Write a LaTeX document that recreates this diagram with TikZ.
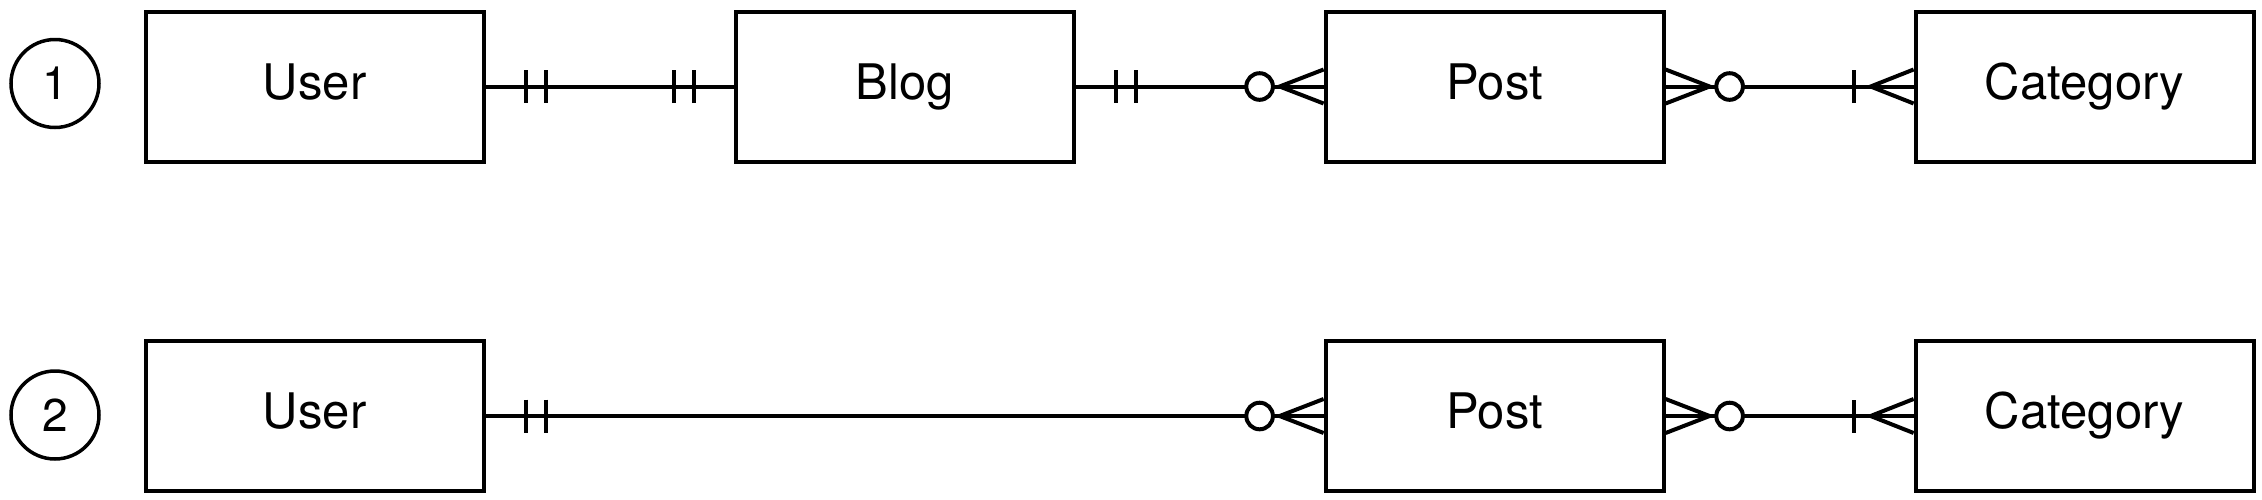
\documentclass[tikz,border=0pt]{standalone}
\usepackage{fontspec}
\setmainfont{TeX Gyre Heros}
\usetikzlibrary{calc}
\tikzset{
  ent/.style={draw, line width=4pt, minimum width=338pt, minimum height=150pt, inner sep=0pt, text height=35pt, text depth=10pt, font=\fontsize{49}{55}\selectfont},
  num/.style={draw, circle, line width=3.5pt, minimum size=88pt, inner sep=0pt, font=\fontsize{46}{52}\selectfont},
  conn/.style={line width=4pt},
  bars/.pic={\draw[conn] (40,-16.5) -- (40,16.5); \draw[conn] (60,-16.5) -- (60,16.5);},
  barone/.pic={\draw[conn] (60,-16.5) -- (60,16.5); \draw[conn] (0,-17) -- (43,0) -- (0,17);},
  crowzero/.pic={\draw[conn] (0,-17) -- (44,0) -- (0,17); \draw[conn, fill=white] (64,0) circle (13.3);}
}
\begin{document}
\begin{tikzpicture}[x=1pt, y=-1pt]
\useasboundingbox (0,0) rectangle (2262,499);
% row 1
\node[num] (n1) at (55,83.5) {1};
\node[ent] (u1) at (314.6,86.5) {User};
\node[ent] (b1) at (904.6,86.5) {Blog};
\node[ent] (p1) at (1494.6,86.5) {Post};
\node[ent] (c1) at (2084.6,86.5) {Category};
\draw[conn] (u1.east) -- (b1.west);
\draw[conn] (b1.east) -- (p1.west);
\draw[conn] (p1.east) -- (c1.west);
\pic at (u1.east) {bars};
\pic[rotate=180] at (b1.west) {bars};
\pic at (b1.east) {bars};
\pic[rotate=180] at (p1.west) {crowzero};
\pic at (p1.east) {crowzero};
\pic[rotate=180] at (c1.west) {barone};
% row 2
\node[num] (n2) at (55,415) {2};
\node[ent] (u2) at (314.6,416) {User};
\node[ent] (p2) at (1494.6,416) {Post};
\node[ent] (c2) at (2084.6,416) {Category};
\draw[conn] (u2.east) -- (p2.west);
\draw[conn] (p2.east) -- (c2.west);
\pic at (u2.east) {bars};
\pic[rotate=180] at (p2.west) {crowzero};
\pic at (p2.east) {crowzero};
\pic[rotate=180] at (c2.west) {barone};
\end{tikzpicture}
\end{document}
